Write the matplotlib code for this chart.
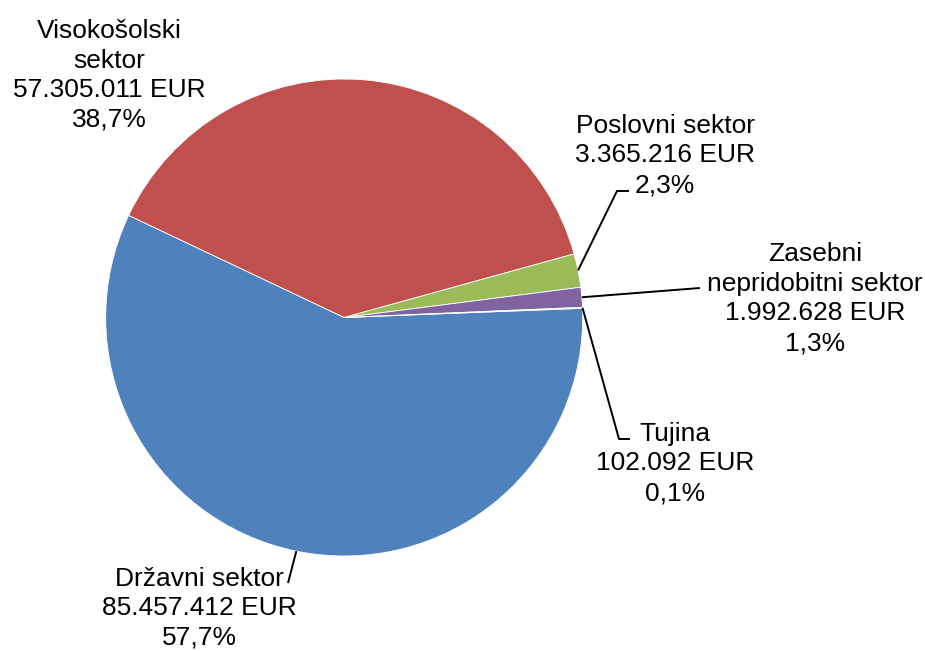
import numpy as np
import matplotlib
matplotlib.use("Agg")
import matplotlib.pyplot as plt

plt.rcParams['font.family'] = ['Liberation Sans', 'DejaVu Sans']

# data (order as drawn clockwise from the right)
sectors = ["Državni sektor", "Visokošolski\nsektor", "Poslovni sektor",
           "Zasebni\nnepridobitni sektor", "Tujina"]
amounts = [85457412, 57305011, 3365216, 1992628, 102092]
colors = ["#4F81BD", "#C0504D", "#9BBB59", "#8064A2", "#4BACC6"]

W, H = 925, 651


def fmt_eur(v):
    return "{:,}".format(v).replace(",", ".") + " EUR"


def fmt_pct(p):
    return ("%.1f" % p).replace(".", ",") + "%"


fig = plt.figure(figsize=(W / 100, H / 100), dpi=100)
ax = fig.add_axes([0, 0, 1, 1])

cx, cy, r = 344.2, H - 317.5, 238.5
wedges, _ = ax.pie(amounts, colors=colors, startangle=2.2, counterclock=False,
                   center=(cx, cy), radius=r,
                   wedgeprops=dict(edgecolor="white", linewidth=0.6))
ax.set_xlim(0, W)
ax.set_ylim(0, H)
ax.set_aspect("equal")
ax.axis("off")

total = float(sum(amounts))
# label anchor (center x, baseline of last line in image px) and leader elbows
label_pos = [(199, 645), (109, 127), (665, 192), (815, 350), (675, 500)]
leaders = [
    [(288, 583)],
    None,
    [(617, 191), (629, 191)],
    [(700, 288)],
    [(619, 439), (630, 439)],
]

for i, w in enumerate(wedges):
    txt = sectors[i] + "\n" + fmt_eur(amounts[i]) + "\n" + fmt_pct(100 * amounts[i] / total)
    x, y = label_pos[i]
    ax.text(x, H - y, txt, ha="center", va="baseline", fontsize=19,
            linespacing=1.29, color="black")
    if leaders[i]:
        mid = np.deg2rad((w.theta1 + w.theta2) / 2)
        pts = [(cx + r * np.cos(mid), cy + r * np.sin(mid))]
        pts += [(px, H - py) for px, py in leaders[i]]
        xs, ys = zip(*pts)
        ax.plot(xs, ys, color="black", lw=1.4, solid_capstyle="butt")

fig.savefig("out.png", dpi=100)
